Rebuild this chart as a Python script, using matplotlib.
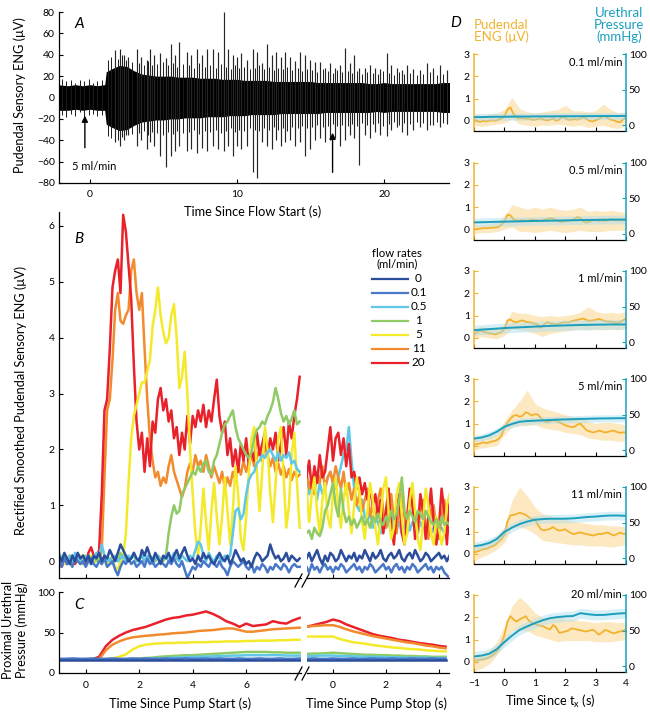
import numpy as np
import matplotlib
matplotlib.use("Agg")
import matplotlib.pyplot as plt

plt.rcParams['font.family'] = ['Lato', 'DejaVu Sans']
plt.rcParams['mathtext.fontset'] = 'custom'
plt.rcParams['mathtext.rm'] = 'Lato'
plt.rcParams['axes.linewidth'] = 0.9

# ======================= DATA =======================
# ---- Panel A : raw pudendal ENG (envelope of dense band + spikes) ----
tA = [-2.2, -1.5, -1.0, -0.5, 0.0, 0.5, 1.0, 1.1, 1.5, 2.0, 2.5,
      3.0, 3.5, 4.0, 4.5, 5.0, 5.5, 6.0, 6.5, 7.0, 7.5,
      8.0, 8.5, 9.0, 9.5, 10.0, 10.5, 11.0, 11.5, 12.0, 12.5,
      13.0, 13.5, 14.0, 14.5, 15.0, 15.5, 16.0, 16.5, 17.0, 17.5,
      18.0, 18.5, 19.0, 19.5, 20.0, 20.5, 21.0, 21.5, 22.0, 22.5,
      23.0, 23.5, 24.0, 24.5]
envA_hi = [12, 11, 12, 11, 12, 11, 12, 24, 27, 30, 29,
           25, 22, 21, 20, 20, 20, 19, 19, 19, 18,
           18, 18, 17, 17, 17, 16, 16, 16, 16, 15,
           15, 15, 15, 15, 15, 14, 14, 14, 14, 14,
           14, 14, 13, 13, 14, 13, 13, 13, 13, 13,
           13, 13, 14, 14]
envA_lo = [-12, -12, -11, -12, -11, -12, -12, -25, -28, -31, -30,
           -26, -23, -22, -21, -21, -20, -20, -19, -19, -19,
           -18, -18, -18, -17, -17, -17, -16, -16, -16, -16,
           -15, -15, -15, -15, -15, -15, -14, -14, -14, -14,
           -14, -14, -14, -13, -14, -13, -13, -13, -13, -13,
           -13, -13, -14, -14]
spk_t = [1.7, 2.04, 2.3, 2.6, 3.17, 3.5, 3.85, 4.1, 4.35, 4.76,
         5.15, 5.5, 5.78, 6.08, 6.58, 6.9, 7.26, 7.6, 7.98, 8.39,
         8.73, 9.12, 9.37, 9.75, 10.0, 10.3, 10.66, 11.07, 11.34, 11.7,
         12.02, 12.36, 12.65, 12.97, 13.27, 13.6, 13.95, 14.29, 14.6, 14.97,
         15.3, 15.65, 15.99, 16.33, 16.67, 17.0, 17.35, 17.7, 17.96, 18.3,
         18.7, 19.05, 19.4, 19.73, 20.2, 20.5, 20.86, 21.2, 21.54, 22.0,
         22.45, 22.9, 23.36, 23.8, 24.26]
spk_up = [44, 45, 40, 38, 45, 38, 35, 45, 40, 42,
          37, 50, 40, 52, 43, 40, 45, 40, 45, 45,
          43, 80, 45, 40, 38, 42, 35, 45, 43, 32,
          50, 40, 43, 38, 43, 38, 34, 43, 40, 35,
          33, 33, 28, 32, 28, 30, 46, 32, 40, 28,
          28, 30, 28, 27, 42, 30, 28, 26, 30, 27,
          26, 32, 28, 30, 26]
spk_dn = [-42, -45, -40, -35, -45, -40, -48, -42, -45, -55,
          -65, -55, -50, -45, -50, -48, -52, -47, -50, -45,
          -48, -50, -45, -55, -45, -48, -45, -70, -75, -42,
          -45, -48, -40, -45, -42, -40, -45, -42, -55, -48,
          -40, -38, -42, -40, -38, -45, -40, -35, -38, -63,
          -35, -38, -32, -35, -36, -30, -28, -32, -35, -30,
          -28, -30, -26, -28, -25]
minor_t = [-1.9, -1.6, -1.3, -1.0, -0.7, -0.4, -0.1, 0.2, 0.5, 0.8,
           1.2, 1.45, 1.87, 2.17, 2.45, 2.88, 3.33, 3.67, 3.97, 4.22,
           4.55, 4.95, 5.32, 5.64, 5.93, 6.33, 6.74, 7.08, 7.43, 7.79,
           8.18, 8.56, 8.92, 9.25, 9.56, 9.87, 10.15, 10.48, 10.86, 11.2,
           11.52, 11.86, 12.19, 12.5, 12.81, 13.12, 13.43, 13.77, 14.12, 14.45,
           14.78, 15.13, 15.47, 15.82, 16.16, 16.5, 16.83, 17.17, 17.52, 17.83,
           18.13, 18.5, 18.87, 19.22, 19.56, 19.96, 20.35, 20.68, 21.03, 21.37,
           21.77, 22.22, 22.67, 23.13, 23.58, 24.03]
minor_up = [17, 15, 16, 14, 16, 15, 17, 14, 15, 16,
            35, 38, 36, 40, 35, 33, 32, 30, 34, 30,
            31, 33, 30, 32, 29, 31, 30, 28, 32, 29,
            30, 28, 31, 29, 27, 30, 28, 29, 27, 28,
            30, 27, 29, 26, 28, 27, 29, 26, 28, 25,
            27, 26, 24, 27, 25, 23, 26, 24, 25, 23,
            25, 22, 24, 23, 22, 25, 23, 21, 24, 22,
            23, 21, 22, 24, 21, 22]
minor_dn = [-16, -18, -15, -17, -14, -18, -16, -15, -17, -16,
            -36, -38, -40, -37, -35, -34, -33, -31, -35, -32,
            -33, -35, -32, -34, -31, -33, -32, -30, -34, -31,
            -32, -30, -33, -31, -29, -32, -30, -31, -29, -30,
            -31, -29, -30, -28, -30, -29, -31, -28, -29, -27,
            -29, -28, -26, -28, -27, -25, -27, -26, -27, -25,
            -27, -24, -26, -25, -24, -27, -25, -23, -26, -24,
            -25, -23, -24, -26, -23, -24]
arrow_t = [-0.35, 16.5]
arrow_tip = [-17, -33]
arrow_tail = [-47, -70]

# ---- Panel B : rectified smoothed ENG ----
flow_labels = ['0', '0.1', '0.5', '1', '5', '11', '20']
flow_colors = ['#2a4d9c', '#4a78c8', '#5fc8e6', '#8fca65', '#f3ea2a', '#f28b2e', '#e8212b']
tB1 = np.round(np.arange(-1.0, 8.01, 0.1), 1)
tB2 = np.round(np.arange(-1.0, 4.41, 0.1), 1)

B1_0 = [0.1, 0.0, 0.15, 0.05, -0.05, 0.1, 0.0, 0.15, 0.05, 0.1,
        0.0, 0.1, -0.05, 0.1, 0.05, 0.15, 0.0, 0.1, 0.05, 0.2,
        0.1, 0.0, 0.15, 0.3, 0.2, 0.1, 0.0, 0.05, 0.15, 0.05,
        0.0, 0.2, 0.1, 0.25, 0.1, 0.0, 0.15, 0.05, -0.05, 0.1,
        0.05, 0.15, 0.0, 0.1, 0.2, 0.05, 0.15, 0.25, 0.1, 0.0,
        0.05, -0.05, 0.1, 0.0, 0.15, 0.05, 0.1, 0.0, -0.05, 0.05,
        0.15, 0.05, 0.0, 0.1, -0.05, 0.05, 0.2, 0.1, 0.0, 0.05,
        -0.05, 0.0, -0.1, 0.05, 0.15, 0.1, 0.0, 0.05, 0.1, 0.3,
        0.15, 0.05, 0.1, 0.0, 0.05, 0.15, 0.0, 0.1, 0.05, 0.0,
        0.05]
B1_01 = [0.0, -0.1, 0.05, -0.05, 0.0, -0.1, 0.05, 0.0, -0.05, 0.0,
         -0.1, 0.0, 0.05, -0.05, -0.1, 0.0, -0.05, 0.05, -0.1, -0.05,
         0.0, -0.15, -0.25, -0.1, 0.0, -0.05, 0.05, -0.05, 0.0, -0.1,
         -0.05, 0.0, -0.1, 0.05, -0.05, 0.0, -0.1, -0.05, 0.0, -0.05,
         -0.1, 0.0, -0.05, 0.05, -0.05, -0.1, 0.0, -0.15, -0.3, -0.2,
         -0.1, -0.15, -0.05, -0.1, 0.0, -0.05, -0.1, 0.0, -0.05, -0.1,
         0.0, -0.1, -0.15, -0.25, -0.1, 0.0, -0.05, -0.1, -0.05, 0.0,
         -0.1, -0.15, -0.05, -0.2, -0.1, -0.15, -0.05, -0.1, -0.2, -0.1,
         -0.15, -0.05, -0.1, -0.15, -0.05, -0.1, -0.2, -0.1, -0.05, -0.1,
         -0.1]
B1_05 = [0.15, 0.05, 0.1, -0.05, 0.1, 0.0, 0.15, 0.05, 0.0, 0.1,
         0.05, 0.1, -0.05, 0.05, 0.15, 0.1, 0.3, 0.1, 0.0, 0.05,
         -0.05, 0.1, 0.0, 0.05, 0.1, 0.0, 0.1, 0.05, 0.15, 0.0,
         0.05, 0.1, 0.0, 0.1, 0.05, -0.05, 0.05, 0.1, 0.0, 0.05,
         0.1, 0.0, 0.05, 0.15, 0.05, 0.0, 0.1, 0.05, 0.0, 0.1,
         0.05, 0.2, 0.35, 0.3, 0.1, 0.0, 0.15, 0.05, 0.0, 0.1,
         0.05, 0.0, 0.1, 0.05, 0.1, 0.5, 0.9, 0.95, 0.75, 0.85,
         1.2, 1.45, 1.55, 1.6, 1.75, 1.8, 1.9, 1.85, 1.95, 2.0,
         1.9, 1.8, 1.95, 1.8, 1.9, 1.85, 1.95, 1.75, 1.8, 1.65,
         1.6]
B1_1 = [0.05, 0.0, 0.1, 0.05, -0.05, 0.05, 0.1, 0.0, 0.05, -0.05,
        0.1, 0.0, 0.05, 0.1, 0.0, 0.05, -0.05, 0.1, 0.05, 0.0,
        0.1, 0.05, 0.0, 0.15, 0.05, 0.1, 0.0, 0.05, 0.1, 0.0,
        0.05, 0.1, 0.0, 0.05, 0.1, 0.05, 0.0, 0.1, 0.05, 0.0,
        0.1, 0.5, 0.8, 1.0, 0.85, 0.9, 1.2, 1.3, 1.4, 1.5,
        1.6, 1.55, 1.7, 1.6, 1.75, 1.8, 1.6, 1.55, 1.8, 1.9,
        2.1, 2.3, 2.45, 2.5, 2.6, 2.7, 2.4, 2.2, 2.1, 2.0,
        1.9, 1.85, 1.95, 2.2, 2.35, 2.4, 2.5, 2.45, 2.6, 2.7,
        2.85, 3.1, 2.9, 2.65, 2.5, 2.6, 2.45, 2.55, 2.7, 2.45,
        2.5]
B1_5 = [0.0, 0.1, -0.05, 0.05, 0.1, -0.05, 0.05, 0.0, 0.1, -0.05,
        0.05, 0.0, 0.1, -0.05, 0.05, 0.1, 0.0, 0.05, -0.1, 0.05,
        0.0, -0.1, -0.15, 0.0, 0.1, 0.5, 1.4, 2.2, 2.6, 2.8,
        3.0, 3.2, 3.2, 3.4, 3.6, 4.2, 4.5, 4.9, 4.4, 4.1,
        3.9, 4.0, 4.4, 4.6, 4.0, 3.1, 3.3, 3.75, 3.0, 2.0,
        1.2, 0.5, 0.1, 0.6, 1.3, 0.7, 0.2, 0.9, 1.4, 0.8,
        0.3, 0.8, 1.5, 0.9, 0.3, 0.9, 1.7, 1.2, 0.4, 0.2,
        0.8, 1.6, 2.2, 2.4, 1.6, 0.9, 1.6, 2.4, 2.0, 1.2,
        0.7, 1.4, 2.2, 2.4, 1.5, 0.6, 1.0, 1.9, 2.3, 1.4,
        0.6]
B1_11 = [0.1, 0.0, 0.05, -0.05, 0.1, 0.0, 0.05, 0.1, -0.05, 0.05,
         0.0, 0.1, 0.0, 0.05, 0.1, 0.0, 0.2, 1.5, 2.7, 2.9,
         3.6, 4.5, 4.8, 4.3, 4.25, 4.4, 4.5, 5.2, 5.4, 4.8,
         4.5, 4.8, 3.8, 2.9, 2.2, 1.8, 1.5, 1.6, 1.35, 1.5,
         1.4, 1.7, 1.9, 1.6, 1.45, 1.3, 1.15, 1.3, 1.6, 1.75,
         1.6, 1.9, 1.7, 1.8, 1.6, 1.9, 1.7, 1.5, 1.7, 1.55,
         1.4, 1.6, 1.3, 1.5, 1.35, 1.6, 1.45, 1.7, 1.55, 1.8,
         1.6, 1.75, 1.9, 1.7, 1.85, 2.0, 1.8, 2.05, 1.9, 1.7,
         1.85, 1.6, 1.75, 1.55, 1.7, 1.5, 1.65, 1.45, 1.6, 1.5,
         1.55]
B1_20 = [0.05, -0.1, 0.0, -0.05, 0.05, 0.1, -0.05, 0.05, 0.0, 0.1,
         -0.05, 0.15, 0.25, 0.1, 0.05, 0.2, 1.2, 2.7, 2.9, 3.8,
         4.9, 5.2, 5.4, 4.8, 6.2, 5.9, 5.3, 4.7, 3.5, 2.5,
         2.0, 2.3, 1.6, 2.2, 1.7, 2.5, 2.3, 2.9, 3.1, 2.7,
         2.9, 2.5, 2.7, 2.2, 2.4, 1.9, 2.3, 2.0, 2.6, 2.1,
         2.6, 2.4, 2.7, 2.5, 2.8, 2.4, 2.7, 2.5, 2.9, 3.25,
         2.6, 2.3, 2.5, 1.9, 2.2, 1.7, 2.0, 1.6, 2.1, 1.8,
         2.2, 1.7, 2.0, 1.8, 2.3, 1.9, 2.1, 2.3, 1.9, 2.2,
         2.0, 2.3, 1.8, 2.1, 2.4, 1.9, 2.5, 2.2, 2.6, 2.9,
         3.3]

B2_0 = [0.05, 0.15, 0.0, 0.1, 0.2, 0.05, -0.05, 0.1, 0.0, 0.15,
        0.1, 0.0, 0.05, 0.2, 0.1, 0.0, 0.1, 0.05, 0.15, 0.0,
        0.1, 0.05, 0.2, 0.1, 0.0, 0.15, 0.05, 0.1, 0.2, 0.05,
        0.0, 0.1, 0.15, 0.05, 0.1, 0.2, 0.05, 0.0, 0.1, 0.15,
        0.05, 0.2, 0.1, 0.0, 0.05, 0.15, 0.1, 0.0, 0.05, 0.1,
        0.15, 0.05, 0.1, 0.0, 0.1]
B2_01 = [-0.1, -0.2, -0.05, -0.15, -0.1, -0.2, -0.1, -0.05, -0.15, -0.1,
         -0.2, -0.1, -0.15, -0.05, -0.1, -0.2, -0.15, -0.1, -0.05, -0.15,
         -0.1, -0.2, -0.1, -0.15, -0.05, -0.1, -0.2, -0.15, -0.1, -0.05,
         -0.15, -0.1, -0.2, -0.1, -0.05, -0.15, -0.1, -0.2, -0.1, -0.15,
         -0.05, -0.1, -0.2, -0.15, -0.1, -0.05, -0.15, -0.1, -0.2, -0.1,
         -0.15, -0.1, -0.2, -0.25, -0.3]
B2_05 = [1.4, 1.2, 1.5, 1.3, 1.1, 1.4, 1.2, 1.3, 1.5, 1.6,
         1.4, 1.3, 1.5, 1.7, 1.9, 2.0, 2.4, 1.8, 1.3, 1.0,
         0.9, 1.1, 0.8, 0.7, 0.9, 0.6, 0.8, 0.7, 0.5, 0.8,
         0.6, 0.7, 0.5, 0.8, 0.6, 0.7, 0.5, 0.6, 0.8, 0.55,
         0.7, 0.6, 0.5, 0.7, 0.6, 0.55, 0.65, 0.5, 0.6, 0.7,
         0.55, 0.6, 0.5, 0.65, 0.6]
B2_1 = [0.5, 0.55, 0.4, 0.6, 0.5, 0.45, 0.6, 0.9, 1.0, 1.2,
        1.4, 1.0, 0.8, 1.3, 0.9, 0.7, 0.8, 0.65, 0.75, 0.6,
        0.7, 0.8, 0.65, 0.75, 0.6, 0.8, 0.7, 0.85, 0.7, 0.65,
        0.8, 0.7, 0.9, 0.75, 0.85, 1.1, 1.5, 0.9, 0.75, 0.9,
        0.8, 0.7, 0.9, 0.85, 0.75, 0.9, 0.8, 0.7, 0.65, 0.75,
        0.6, 0.8, 0.65, 0.7, 0.65]
B2_5 = [1.3, 0.7, 1.2, 1.5, 0.9, 0.5, 1.1, 1.4, 0.8, 0.6,
        1.2, 1.5, 1.0, 0.6, 1.1, 1.4, 0.9, 0.5, 1.0, 1.5,
        1.2, 0.7, 0.4, 0.9, 1.4, 1.1, 0.6, 0.3, 0.8, 1.3,
        1.5, 0.9, 0.4, 0.6, 1.2, 1.4, 0.8, 0.3, 0.5, 1.1,
        1.4, 0.9, 0.4, 0.2, 0.7, 1.3, 1.0, 0.5, 0.3, 0.8,
        0.6, 0.3, 0.5, 1.0, 1.2]
B2_11 = [1.6, 1.3, 1.5, 1.2, 1.6, 1.4, 1.7, 1.3, 1.5, 1.6,
         1.4, 1.7, 1.5, 1.3, 1.6, 1.2, 1.4, 1.1, 1.3, 1.0,
         1.2, 0.9, 1.1, 1.3, 0.8, 1.0, 0.7, 1.1, 1.3, 0.9,
         0.6, 1.0, 1.2, 0.7, 0.5, 0.9, 1.2, 0.8, 0.5, 1.0,
         1.2, 0.7, 0.5, 0.9, 1.1, 0.6, 0.4, 0.9, 1.0, 0.6,
         0.4, 0.8, 1.1, 0.7, 0.5]
B2_20 = [1.5, 1.8, 1.3, 1.7, 1.4, 1.9, 1.5, 1.6, 2.0, 2.4,
         1.8, 2.2, 2.3, 1.9, 2.2, 1.7, 2.1, 1.5, 1.6, 1.3,
         1.5, 1.2, 1.4, 1.1, 1.3, 1.0, 1.2, 0.8, 1.1, 0.5,
         0.9, 1.3, 0.6, 0.3, 0.9, 1.2, 0.5, 0.3, 0.8, 1.3,
         1.0, 0.4, 0.6, 1.2, 0.9, 0.4, 0.8, 1.3, 0.7, 0.3,
         0.6, 1.3, 0.9, 0.3, 1.1]

B1_series = [B1_0, B1_01, B1_05, B1_1, B1_5, B1_11, B1_20]
B2_series = [B2_0, B2_01, B2_05, B2_1, B2_5, B2_11, B2_20]

# ---- Panel C : proximal urethral pressure ----
tC1 = np.arange(-1.0, 8.01, 0.25)
tC2 = np.arange(-1.0, 4.26, 0.25)
C1_0 = [16.5] * 37
C1_01 = [17.5, 17.5, 18, 17.5, 17.5, 18, 17.5, 17.5, 18, 17.5,
         17.5, 18, 17.5, 18, 17.5, 17.5, 18, 17.5, 17.5, 18,
         17.5, 17.5, 18, 17.5, 18, 17.5, 17.5, 18, 17.5, 17.5,
         18, 17.5, 17.5, 18, 17.5, 17.5, 18]
C1_05 = [17, 17, 17, 17, 17, 17, 17, 17, 17, 17, 17, 17, 17,
         17.5, 18, 18, 18.5, 19, 19, 19.5, 20, 20, 20.5, 20.5, 21, 21,
         21.5, 21.5, 22, 22, 22, 22, 22, 22, 21.5, 21.5, 21.5]
C1_1 = [17, 17, 17, 17, 17, 17, 17, 17, 17, 17, 17,
        17.5, 18, 18.5, 19, 20, 20.5, 21, 21.5, 22, 22, 22.5, 23, 23.5, 24,
        24.5, 25, 25.5, 26, 26, 26, 26, 25.5, 25.5, 25, 25, 25]
C1_5 = [17, 17, 17, 17, 17, 17, 17, 17, 18, 20, 23, 29, 33, 35, 36, 36.5, 37,
        37, 37.5, 37.5, 38, 38, 38, 38.5, 38.5, 39, 39, 39, 39.5, 39.5, 40,
        40, 40, 40.5, 40.5, 41, 41]
C1_11 = [17, 17, 17, 17, 17, 17, 17, 28, 35, 39, 42, 44, 45, 46, 46.5, 47.5,
         48, 49, 49.5, 50, 51, 52, 52.5, 53, 54, 55, 55, 53, 51, 51, 52, 53,
         54, 54.5, 55, 55.5, 56]
C1_20 = [17, 17, 17, 17, 17, 17, 20, 33, 41, 46, 50, 53, 55, 57, 60, 63, 66,
         68, 69, 71, 72, 74, 76, 73, 69, 64, 61, 57, 61, 58, 59, 60, 64, 62,
         61, 65, 68]
C2_0 = [16.5] * 22
C2_01 = [17.5, 18, 17.5, 17.5, 18, 17.5, 17.5, 18, 17.5, 17.5, 18,
         17.5, 17.5, 18, 17.5, 17.5, 18, 17.5, 17.5, 18, 17.5, 17.5]
C2_05 = [21, 21, 21.5, 21.5, 21.5, 21, 21, 20.5, 20.5, 20, 20, 20, 19.5,
         19.5, 19.5, 19, 19, 19, 19, 18.5, 18.5, 18.5]
C2_1 = [23.5, 24, 24, 24.5, 25, 24.5, 24, 23.5, 23, 22.5, 22.5, 22, 22,
        21.5, 21.5, 21, 21, 20.5, 20.5, 20, 20, 20]
C2_5 = [45, 45, 45, 45, 45, 42, 40, 38, 37, 36, 34.5, 33.5, 32.5, 31.5, 31,
        30, 29.5, 29, 28, 27.5, 27, 26.5]
C2_11 = [57, 58, 58.5, 59, 59, 57, 54, 51.5, 49.5, 47.5, 45.5, 44, 42.5, 41,
         39.5, 38, 37, 35.5, 34, 33, 31.5, 30.5]
C2_20 = [57, 59, 61, 63, 66, 64, 60, 57, 54, 51, 48, 46, 44.5, 43, 41, 40,
         38.5, 37, 36, 35, 33.5, 32.5]
C1_series = [C1_0, C1_01, C1_05, C1_1, C1_5, C1_11, C1_20]
C2_series = [C2_0, C2_01, C2_05, C2_1, C2_5, C2_11, C2_20]

# ---- Panel D : averaged ENG and pressure around t_x ----
D_flow = ['0.1 ml/min', '0.5 ml/min', '1 ml/min', '5 ml/min', '11 ml/min', '20 ml/min']
tD = np.round(np.arange(-1.0, 4.01, 0.1), 1)
tDc = np.arange(-1.0, 4.01, 0.25)
D_eng_01 = [0.05, 0.0, -0.05, 0.0, -0.03, 0.0, 0.02, 0.0, 0.05, 0.1,
            0.2, 0.5, 0.6, 0.3, 0.15, 0.1, 0.12, 0.08, 0.1, 0.05,
            0.05, 0.08, 0.1, 0.05, 0.02, 0.05, 0.1, 0.0, 0.05, 0.2,
            0.12, 0.05, 0.05, 0.08, 0.05, 0.1, 0.17, 0.08, 0.0, -0.03,
            0.02, 0.08, 0.15, 0.22, 0.12, 0.05, 0.02, -0.04, -0.07, 0.05,
            0.15]
D_eng_05 = [0.0, 0.02, 0.03, 0.05, 0.05, 0.06, 0.07, 0.08, 0.1, 0.2,
            0.35, 0.65, 0.62, 0.45, 0.4, 0.38, 0.42, 0.38, 0.4, 0.43,
            0.42, 0.4, 0.38, 0.42, 0.45, 0.5, 0.48, 0.4, 0.35, 0.33,
            0.36, 0.38, 0.4, 0.45, 0.55, 0.5, 0.35, 0.3, 0.35, 0.4,
            0.42, 0.38, 0.4, 0.37, 0.4, 0.45, 0.43, 0.4, 0.42, 0.4,
            0.42]
D_eng_1 = [0.15, 0.25, 0.32, 0.28, 0.24, 0.2, 0.18, 0.15, 0.2, 0.25,
           0.4, 0.78, 0.82, 0.72, 0.7, 0.75, 0.78, 0.72, 0.7, 0.68,
           0.63, 0.58, 0.45, 0.6, 0.7, 0.66, 0.62, 0.6, 0.63, 0.68,
           0.7, 0.68, 0.74, 0.78, 0.8, 0.84, 0.86, 0.8, 0.76, 0.78,
           0.8, 0.85, 0.8, 0.75, 0.73, 0.72, 0.7, 0.68, 0.7, 0.78,
           0.85]
D_eng_5 = [0.03, 0.08, 0.1, 0.15, 0.12, 0.15, 0.2, 0.22, 0.3, 0.45,
           0.8, 1.05, 1.22, 1.35, 1.38, 1.3, 1.35, 1.5, 1.45, 1.36,
           1.42, 1.4, 1.25, 1.12, 1.05, 1.1, 1.15, 1.12, 1.06, 1.0,
           0.92, 0.88, 0.84, 0.85, 0.95, 1.0, 0.85, 0.7, 0.65, 0.6,
           0.62, 0.68, 0.65, 0.6, 0.62, 0.66, 0.68, 0.62, 0.58, 0.6,
           0.6]
D_eng_11 = [0.05, 0.1, 0.15, 0.2, 0.22, 0.28, 0.33, 0.4, 0.52, 0.65,
            0.85, 1.45, 1.72, 1.75, 1.78, 1.85, 1.8, 1.75, 1.65, 1.55,
            1.55, 1.3, 1.1, 1.05, 1.08, 1.12, 1.2, 1.1, 1.04, 1.06,
            1.1, 1.0, 0.92, 0.88, 0.93, 0.96, 0.92, 0.88, 0.86, 0.82,
            0.85, 0.9, 0.88, 0.93, 0.95, 0.88, 0.82, 0.88, 0.95, 0.9,
            0.88]
D_eng_20 = [0.08, 0.05, 0.1, 0.1, 0.15, 0.2, 0.28, 0.4, 0.55, 0.8,
            1.2, 1.8, 2.05, 1.9, 1.8, 1.9, 1.97, 2.05, 1.85, 1.75,
            1.7, 1.65, 1.62, 1.58, 1.5, 1.45, 1.65, 1.55, 1.3, 1.32,
            1.36, 1.4, 1.5, 1.48, 1.44, 1.42, 1.38, 1.36, 1.4, 1.44,
            1.35, 1.22, 1.3, 1.42, 1.4, 1.32, 1.28, 1.32, 1.36, 1.4,
            1.44]
D_hi_01 = [0.3, 0.25, 0.3, 0.35, 0.5, 1.05, 0.55, 0.4, 0.35, 0.4, 0.45,
           0.5, 0.7, 0.45, 0.45, 0.4, 0.45, 0.75, 0.5, 0.35, 0.4]
D_lo_01 = [-0.2, -0.25, -0.2, -0.15, -0.1, 0.1, -0.15, -0.2, -0.25, -0.2, -0.2,
           -0.15, -0.2, -0.25, -0.2, -0.3, -0.25, -0.2, -0.3, -0.35, -0.2]
D_hi_05 = [0.2, 0.2, 0.25, 0.3, 0.6, 1.1, 1.0, 0.9, 1.0, 0.9, 1.0,
           0.9, 0.85, 0.9, 1.0, 0.8, 0.85, 0.8, 0.85, 0.8, 0.75]
D_lo_05 = [-0.2, -0.15, -0.15, -0.1, 0.0, 0.1, -0.1, -0.1, -0.15, -0.1, -0.05,
           -0.1, -0.15, -0.1, -0.05, -0.1, -0.1, -0.1, -0.05, -0.05, -0.05]
D_hi_1 = [0.4, 0.5, 0.45, 0.4, 0.6, 1.2, 1.1, 1.1, 1.0, 0.95, 1.0,
          0.95, 1.0, 1.05, 1.15, 1.4, 1.2, 1.1, 1.15, 1.1, 1.2]
D_lo_1 = [-0.05, 0.05, 0.0, -0.05, 0.1, 0.4, 0.35, 0.3, 0.2, 0.05, 0.2,
          0.25, 0.3, 0.35, 0.4, 0.35, 0.4, 0.35, 0.4, 0.35, 0.45]
D_hi_5 = [0.3, 0.4, 0.45, 0.55, 1.1, 1.6, 2.0, 2.5, 1.9, 1.7, 1.6,
          1.5, 1.4, 1.3, 1.3, 1.1, 1.0, 1.05, 1.05, 1.0, 0.95]
D_lo_5 = [-0.2, -0.1, -0.05, 0.0, 0.5, 0.85, 0.9, 0.9, 0.95, 0.8, 0.75,
          0.7, 0.6, 0.55, 0.5, 0.35, 0.3, 0.25, 0.25, 0.2, 0.2]
D_hi_11 = [0.3, 0.45, 0.6, 0.8, 1.2, 2.4, 3.0, 2.6, 2.1, 1.8, 1.7,
           1.6, 1.55, 1.45, 1.4, 1.35, 1.3, 1.3, 1.25, 1.25, 1.2]
D_lo_11 = [-0.3, -0.15, 0.0, 0.2, 0.5, 1.2, 1.2, 1.1, 0.9, 0.6, 0.55,
           0.5, 0.45, 0.4, 0.4, 0.35, 0.35, 0.35, 0.3, 0.35, 0.4]
D_hi_20 = [0.3, 0.35, 0.5, 0.9, 1.6, 2.5, 2.9, 2.6, 2.2, 2.0, 1.9,
           2.1, 1.9, 1.9, 1.85, 1.8, 1.75, 1.8, 1.8, 1.75, 1.8]
D_lo_20 = [-0.4, -0.3, -0.1, 0.3, 0.8, 1.4, 1.4, 1.4, 1.2, 1.1, 1.0,
           0.9, 0.95, 0.95, 0.95, 0.95, 0.9, 0.9, 0.9, 0.95, 1.0]
D_p_01 = [11.5, 11.5, 11.8, 12, 12, 12.2, 12.3, 12.3, 12.5, 12.5, 12.5,
          12.6, 12.7, 12.7, 12.8, 12.8, 12.9, 13, 13, 13, 13.2]
D_p_05 = [16, 16.2, 16.5, 16.8, 17, 17.3, 17.5, 17.8, 18, 18.2, 18.4,
          18.6, 18.8, 19, 19.2, 19.4, 19.5, 19.7, 19.8, 19.9, 20]
D_p_1 = [17, 17.8, 18.5, 19.2, 20, 20.5, 21, 21.5, 22, 22.5, 23,
         23.3, 23.7, 24, 24.3, 24.5, 24.7, 24.8, 25, 25, 25]
D_p_5 = [16.4, 18, 21, 26, 33, 37, 40, 41, 41.5, 42, 42.5,
         43, 43.3, 43.6, 44, 44.2, 44.5, 44.7, 44.8, 45, 45]
D_p_11 = [17, 18.5, 21.5, 27, 37, 43, 48, 51.5, 54, 55, 55.5,
          55.5, 55.5, 56, 57, 58, 58.5, 59.5, 60, 60, 59.5]
D_p_20 = [13.8, 15, 17.6, 24, 34, 43, 51, 56, 60.5, 64.5, 67.5,
          69, 70, 70.5, 74.5, 73, 72, 72, 73, 74, 74.5]
D_phw = [5, 6, 7, 5, 6, 7]
D_eng = [D_eng_01, D_eng_05, D_eng_1, D_eng_5, D_eng_11, D_eng_20]
D_hi = [D_hi_01, D_hi_05, D_hi_1, D_hi_5, D_hi_11, D_hi_20]
D_lo = [D_lo_01, D_lo_05, D_lo_1, D_lo_5, D_lo_11, D_lo_20]
D_p = [D_p_01, D_p_05, D_p_1, D_p_5, D_p_11, D_p_20]

# ======================= STYLE / LAYOUT =======================
W, H = 650, 713
ENG_C = '#f2b22e'
ENG_BAND = '#fbe2ae'
P_C = '#1b9fbd'
P_BAND = '#a8dcef'
TICK_FS = 7.5
LAB_FS = 9.2
LW_B = 1.8

fig = plt.figure(figsize=(W / 100, H / 100), dpi=100)


def frac(l, t, r, b):
    return [l / W, 1 - b / H, (r - l) / W, (b - t) / H]


def style(ax, left=True):
    ax.spines['top'].set_visible(False)
    ax.spines['right'].set_visible(False)
    if not left:
        ax.spines['left'].set_visible(False)
        ax.tick_params(axis='y', left=False, labelleft=False)
    ax.tick_params(direction='in', length=3, width=0.8, labelsize=TICK_FS)
    ax.tick_params(axis='x', pad=5)
    ax.tick_params(axis='y', pad=3)


# ---------- Panel A ----------
axA = fig.add_axes(frac(59, 12, 449, 183))
axA.fill_between(tA, envA_lo, envA_hi, color='black', lw=0)
axA.vlines(minor_t, minor_dn, minor_up, color='0.1', lw=0.7)
axA.vlines(spk_t, spk_dn, spk_up, color='0.15', lw=0.85)
for t, tip, tail in zip(arrow_t, arrow_tip, arrow_tail):
    axA.annotate('', xy=(t, tip), xytext=(t, tail),
                 arrowprops=dict(arrowstyle='-|>', color='k', lw=1.0,
                                 mutation_scale=9, shrinkA=0, shrinkB=0))
axA.set_xlim(-2.11, 24.42)
axA.set_ylim(-80, 80)
axA.set_yticks(np.arange(-80, 81, 20))
axA.set_xticks([0, 10, 20])
style(axA)
axA.text(-1.25, -65, '5 ml/min', fontsize=8, va='center')

# ---------- Panel B ----------
order = [5, 6, 4, 3, 2, 1, 0]
axB1 = fig.add_axes(frac(59, 212, 301, 578))
axB2 = fig.add_axes(frac(306.5, 212, 449, 578))
for ax in (axB1, axB2):
    ax.patch.set_alpha(0)
for k in order:
    axB1.plot(tB1, B1_series[k], color=flow_colors[k], lw=LW_B, solid_joinstyle='round')
    axB2.plot(tB2, B2_series[k], color=flow_colors[k], lw=LW_B, solid_joinstyle='round',
              zorder=(1 if k == 2 else 2))
for ax in (axB1, axB2):
    ax.set_ylim(-0.3, 6.25)
    ax.tick_params(labelbottom=False)
axB1.set_xlim(-1.0, 8.05)
axB2.set_xlim(-1.0, 4.38)
axB1.set_xticks([0, 2, 4, 6])
axB2.set_xticks([0, 2, 4])
axB1.set_yticks(range(7))
style(axB1)
style(axB2, left=False)

# ---------- Panel C ----------
axC1 = fig.add_axes(frac(59, 592, 301, 673))
axC2 = fig.add_axes(frac(306.5, 592, 449, 673))
for k in [6, 5, 4, 3, 2, 1, 0]:
    axC1.plot(tC1, C1_series[k], color=flow_colors[k], lw=1.8)
    axC2.plot(tC2, C2_series[k], color=flow_colors[k], lw=1.8)
for ax in (axC1, axC2):
    ax.set_ylim(0, 100)
axC1.set_xlim(-1.0, 8.05)
axC2.set_xlim(-1.0, 4.38)
axC1.set_xticks([0, 2, 4, 6])
axC2.set_xticks([0, 2, 4])
axC1.set_yticks([0, 50, 100])
style(axC1)
style(axC2, left=False)
axC1.tick_params(axis='x', pad=6)
axC2.tick_params(axis='x', pad=6)

# ---------- Panel D ----------
D_tops = [54, 162.5, 271, 379, 487, 595]
for i in range(6):
    top = D_tops[i]
    ax = fig.add_axes(frac(474, top, 626, top + 77))
    ax2 = ax.twinx()
    ax.fill_between(tDc, D_lo[i], D_hi[i], color=ENG_BAND, alpha=0.75, lw=0)
    ax.plot(tD, D_eng[i], color=ENG_C, lw=1.3)
    p = np.array(D_p[i])
    ax2.fill_between(tDc, p - D_phw[i], p + D_phw[i], color=P_BAND, alpha=0.45, lw=0)
    ax2.plot(tDc, p, color=P_C, lw=1.4)
    ax.set_xlim(-1, 4)
    ax.set_ylim(-0.46, 3.0)
    ax2.set_ylim(-8, 100)
    ax.set_yticks([0, 1, 2, 3])
    ax2.set_yticks([0, 50, 100])
    ax.set_xticks(range(-1, 5))
    for s in ('top', 'right'):
        ax.spines[s].set_visible(False)
    for s in ('top', 'left', 'bottom'):
        ax2.spines[s].set_visible(False)
    ax.spines['left'].set_color(ENG_C)
    ax.spines['left'].set_linewidth(1.1)
    ax2.spines['right'].set_color(P_C)
    ax2.spines['right'].set_linewidth(1.1)
    ax.tick_params(direction='in', length=3, width=0.8, labelsize=TICK_FS)
    ax.tick_params(axis='y', colors=ENG_C, labelcolor='black', pad=3)
    ax2.tick_params(direction='in', length=3, width=0.8, labelsize=TICK_FS,
                    colors=P_C, labelcolor='black', pad=2)
    ax.tick_params(axis='x', pad=5, labelbottom=(i == 5))
    ylab = 1 - 8 / 77 if i < 5 else 1.0
    ax.text(0.975, ylab, D_flow[i], transform=ax.transAxes, ha='right', va='center',
            fontsize=8, zorder=5)

# ======================= OVERLAY TEXT / DECOR =======================
ov = fig.add_axes([0, 0, 1, 1], zorder=10)
ov.set_xlim(0, W)
ov.set_ylim(H, 0)
ov.axis('off')
ov.patch.set_alpha(0)

for lab, (x, y) in zip('ABCD', [(79, 24), (79, 239), (79, 605), (456, 23)]):
    ov.text(x, y, lab, fontsize=11, style='italic', ha='center', va='center')

ov.text(20, 95, 'Pudendal Sensory ENG (\u03bcV)', rotation=90, ha='center', va='center', fontsize=LAB_FS)
ov.text(21, 400, 'Rectified Smoothed Pudendal Sensory ENG (\u03bcV)', rotation=90,
        ha='center', va='center', fontsize=LAB_FS)
ov.text(15, 630, 'Proximal Urethral\nPressure (mmHg)', rotation=90, ha='center', va='center',
        fontsize=LAB_FS, linespacing=1.15, multialignment='center')

ov.text(253, 212, 'Time Since Flow Start (s)', ha='center', va='center', fontsize=LAB_FS)
ov.text(180, 704, 'Time Since Pump Start (s)', ha='center', va='center', fontsize=LAB_FS)
ov.text(377, 704, 'Time Since Pump Stop (s)', ha='center', va='center', fontsize=LAB_FS)
ov.text(550, 701, 'Time Since t$_\\mathrm{x}$ (s)', ha='center', va='center', fontsize=LAB_FS)

ov.text(501, 31, 'Pudendal\nENG (\u03bcV)', color=ENG_C, ha='center', va='center',
        fontsize=9.5, linespacing=0.95)
ov.text(619, 25, 'Urethral\nPressure\n(mmHg)', color=P_C, ha='center', va='center',
        fontsize=9.5, linespacing=0.95)

ov.text(397, 259, 'flow rates\n(ml/min)', ha='center', va='center', fontsize=8.2, linespacing=0.9)
leg_y = [279, 292.5, 307, 321, 335, 349, 363]
for k in range(7):
    ov.plot([372, 408], [leg_y[k], leg_y[k]], color=flow_colors[k], lw=1.6)
    ov.text(418.5, leg_y[k], flow_labels[k], ha='center', va='center', fontsize=8.5)

for yb in (580, 673):
    for dx in (0, 7):
        ov.plot([295 + dx, 302 + dx], [yb + 7, yb - 6], color='k', lw=0.9)

fig.savefig('out.png', dpi=100)
